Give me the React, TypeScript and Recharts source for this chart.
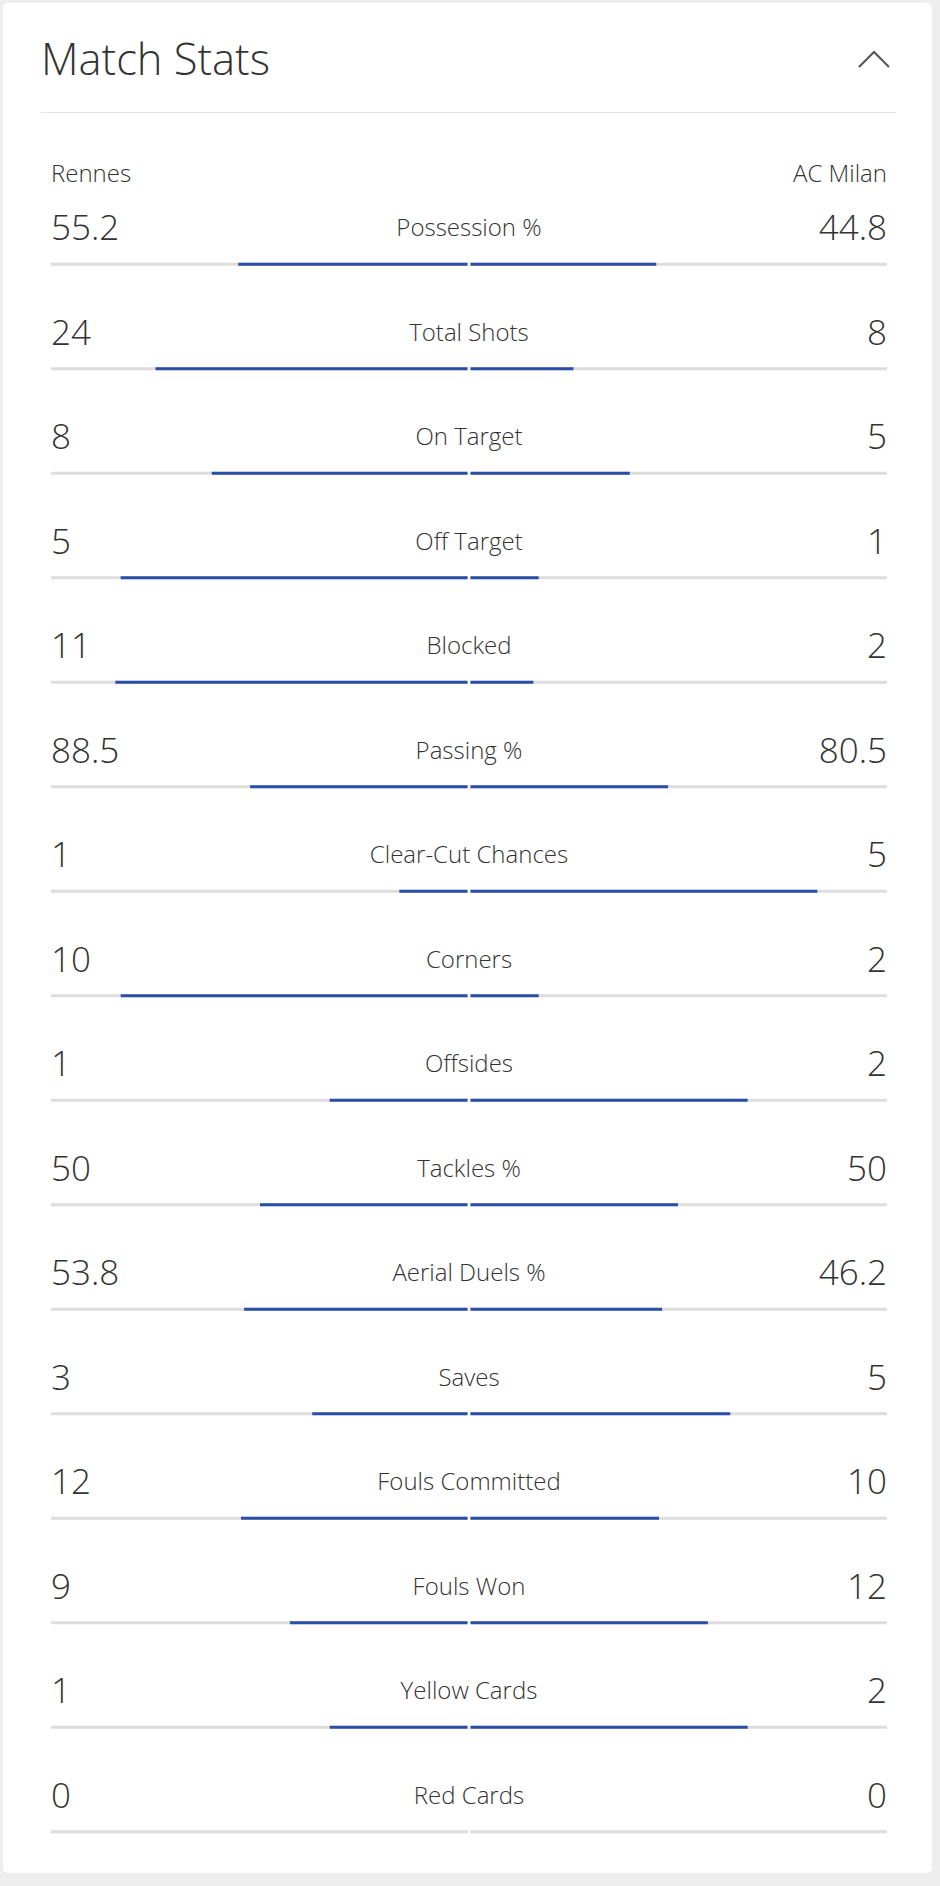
import React from 'react';
import { BarChart, Bar, XAxis, YAxis } from 'recharts';

// ---- data ----
const chartTitle = 'Match Stats';
const teamNames = ['Rennes', 'AC Milan'];
const statLabels = [
  'Possession %',
  'Total Shots',
  'On Target',
  'Off Target',
  'Blocked',
  'Passing %',
  'Clear-Cut Chances',
  'Corners',
  'Offsides',
  'Tackles %',
  'Aerial Duels %',
  'Saves',
  'Fouls Committed',
  'Fouls Won',
  'Yellow Cards',
  'Red Cards',
];
const rennesValues = [55.2, 24, 8, 5, 11, 88.5, 1, 10, 1, 50, 53.8, 3, 12, 9, 1, 0];
const milanValues = [44.8, 8, 5, 1, 2, 80.5, 5, 2, 2, 50, 46.2, 5, 10, 12, 2, 0];

const data = statLabels.map((name, i) => {
  const home = rennesValues[i];
  const away = milanValues[i];
  const total = home + away;
  return {
    name,
    home,
    away,
    homeShare: total ? -home / total : 0,
    awayShare: total ? away / total : 0,
  };
});

// ---- styles / layout ----
const FONT = '"Open Sans", "DejaVu Sans", sans-serif';
const TEXT = '#333333';
const BLUE = '#2a4ea6';
const TRACK = '#dddddd';
const GAP = 1.5;

const W = 940;
const H = 1886;
const PLOT_LEFT = 51;
const PLOT_RIGHT = 887;
const ROW = 104.5;
const FIRST_BAR = 264;
const TOP = FIRST_BAR - ROW / 2;
const BOTTOM = H - TOP - ROW * data.length;
const Y_AXIS_W = 1;

function HomeBar(props: any) {
  const { x, y, width, height } = props;
  const x0 = Math.min(x, x + width);
  const w = Math.abs(width) - GAP;
  if (!(w > 0)) return <g />;
  return <rect x={x0} y={y} width={w} height={height} fill={BLUE} />;
}

function AwayBar(props: any) {
  const { x, y, width, height } = props;
  const x0 = Math.min(x, x + width);
  const w = Math.abs(width) - GAP;
  if (!(w > 0)) return <g />;
  return <rect x={x0 + GAP} y={y} width={w} height={height} fill={BLUE} />;
}

function Track(props: any) {
  const { x, y, width, height } = props;
  const half = width / 2;
  return (
    <g>
      <rect x={x} y={y} width={half - 1} height={height} fill={TRACK} />
      <rect x={x + half + 1} y={y} width={half - 1} height={height} fill={TRACK} />
    </g>
  );
}

function RowTick(props: any) {
  const { y, payload } = props;
  const idx = typeof props.index === 'number' ? props.index : data.findIndex((d) => d.name === payload.value);
  const d = data[idx] || data.find((r) => r.name === payload.value);
  if (!d) return <g />;
  const mid = (PLOT_LEFT + PLOT_RIGHT) / 2;
  return (
    <g fontFamily={FONT} fill={TEXT}>
      <text x={PLOT_LEFT} y={y - 24} textAnchor="start" fontSize={35} fontWeight={300}>
        {String(d.home)}
      </text>
      <text x={mid} y={y - 28} textAnchor="middle" fontSize={24} fontWeight={300}>
        {d.name}
      </text>
      <text x={PLOT_RIGHT} y={y - 24} textAnchor="end" fontSize={35} fontWeight={300}>
        {String(d.away)}
      </text>
    </g>
  );
}

export default function App() {
  return (
    <div
      style={{
        position: 'absolute',
        left: 0,
        top: 0,
        width: W,
        height: H,
        background: '#eeeeee',
        overflow: 'hidden',
      }}
    >
      <div
        style={{
          position: 'absolute',
          left: 3,
          top: 3,
          width: 929,
          height: 1870,
          background: '#ffffff',
          borderRadius: 5,
        }}
      />
      <svg
        width={W}
        height={200}
        style={{ position: 'absolute', left: 0, top: 0 }}
        fontFamily={FONT}
      >
        <text x={41} y={75} fontSize={43.5} fontWeight={300} fill={TEXT}>
          {chartTitle}
        </text>
        <polyline
          points="859,67 874,52 889,67"
          fill="none"
          stroke="#555555"
          strokeWidth={2}
        />
        <line x1={41} x2={896} y1={112.5} y2={112.5} stroke="#e3e3e3" strokeWidth={1} />
        <text x={PLOT_LEFT} y={182} fontSize={24} fontWeight={300} fill={TEXT}>
          {teamNames[0]}
        </text>
        <text x={PLOT_RIGHT} y={182} fontSize={24} fontWeight={300} fill={TEXT} textAnchor="end">
          {teamNames[1]}
        </text>
      </svg>
      <div style={{ position: 'absolute', left: 0, top: 0 }}>
        <BarChart
          width={W}
          height={H}
          data={data}
          layout="vertical"
          stackOffset="sign"
          margin={{ top: TOP, bottom: BOTTOM, left: PLOT_LEFT - Y_AXIS_W, right: W - PLOT_RIGHT }}
        >
          <XAxis type="number" domain={[-1, 1]} hide allowDataOverflow />
          <YAxis
            type="category"
            dataKey="name"
            width={Y_AXIS_W}
            axisLine={false}
            tickLine={false}
            tick={RowTick}
            interval={0}
          />
          <Bar
            dataKey="homeShare"
            stackId="s"
            barSize={3}
            background={Track}
            shape={HomeBar}
            isAnimationActive={false}
          />
          <Bar
            dataKey="awayShare"
            stackId="s"
            barSize={3}
            shape={AwayBar}
            isAnimationActive={false}
          />
        </BarChart>
      </div>
    </div>
  );
}
